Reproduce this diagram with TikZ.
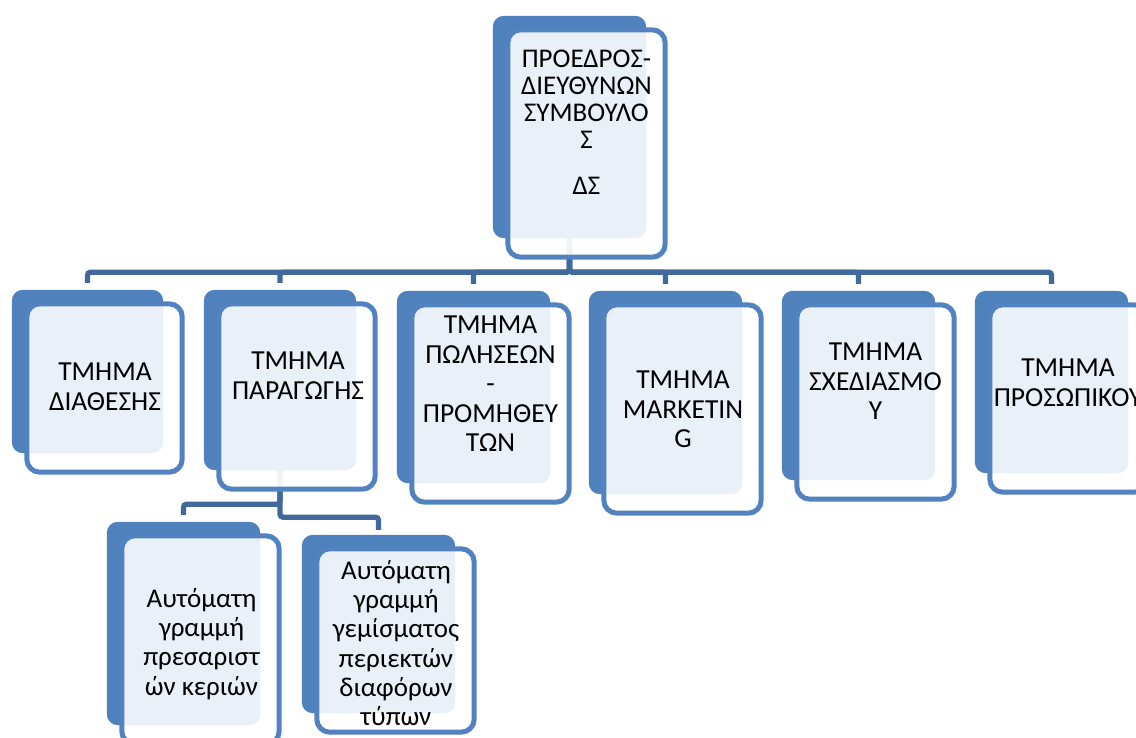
\documentclass[tikz,border=0pt]{standalone}
\usepackage{fontspec}
\setmainfont{Carlito}
\usetikzlibrary{fit,backgrounds}
\definecolor{backblue}{HTML}{4F81BD}
\definecolor{lineblue}{HTML}{5283C0}
\definecolor{connblue}{HTML}{41699B}
\definecolor{lightfill}{HTML}{EAF0F8}
\tikzset{
  frame/.style={inner sep=0pt},
  conn/.style={draw=connblue, line width=5.3pt, rounded corners=3pt},
  txt/.style={align=center, inner sep=0pt, anchor=north, text=black,
    font=\fontsize{27.5}{29.5}\selectfont},
  toptxt/.style={align=center, inner sep=0pt, anchor=north, text=black,
    font=\fontsize{27}{27}\selectfont},
}
\newcommand\unitbox[5]{%
  \node[frame, fit={(#2,#3)(#4,#5)}] (b#1) {};
  \node[frame, fit={(#2+15,#3+14)(#4+19,#5+19)}] (f#1) {};
  \fill[backblue, rounded corners=11pt] (b#1.south west) rectangle (b#1.north east);
  \fill[white, opacity=.93, rounded corners=13pt] (f#1.south west) rectangle (f#1.north east);
  \begin{scope}
    \clip[rounded corners=13pt] (f#1.south west) rectangle (f#1.north east);
    \fill[lightfill, rounded corners=11pt] (b#1.south west) rectangle (b#1.north east);
  \end{scope}
  \draw[lineblue, line width=5pt, rounded corners=13pt] (f#1.south west) rectangle (f#1.north east);
}
\begin{document}
\begin{tikzpicture}[x=1pt, y=-1pt]
\useasboundingbox (0,0) rectangle (1136,738);
\clip (0,0) rectangle (1136,738);

\unitbox{0}{493}{16}{646}{238}
\unitbox{1}{12}{290}{163}{453}
\unitbox{2}{204}{290}{356}{470}
\unitbox{3}{397}{291}{550}{483}
\unitbox{4}{589}{291}{742}{494}
\unitbox{5}{782}{291}{935}{480}
\unitbox{6}{975}{291}{1128}{473}
\unitbox{7}{107}{522}{260}{725}
\unitbox{8}{302}{535}{455}{713}

\node[toptxt] (t0) at (586.5,50) {ΠΡΟΕΔΡΟΣ-\\ΔΙΕΥΘΥΝΩΝ\\ΣΥΜΒΟΥΛΟ\\Σ\\[19pt]ΔΣ};
\node[txt] (t1) at (105,363) {ΤΜΗΜΑ\\ΔΙΑΘΕΣΗΣ};
\node[txt] (t2) at (298,352) {ΤΜΗΜΑ\\ΠΑΡΑΓΩΓΗΣ};
\node[txt] (t3) at (490.5,316) {ΤΜΗΜΑ\\ΠΩΛΗΣΕΩΝ\\-\\ΠΡΟΜΗΘΕΥ\\ΤΩΝ};
\node[txt] (t4) at (683,371) {ΤΜΗΜΑ\\MARKETIN\\G};
\node[txt] (t5) at (875.5,343) {ΤΜΗΜΑ\\ΣΧΕΔΙΑΣΜΟ\\Υ};
\node[txt] (t6) at (1068,359) {ΤΜΗΜΑ\\ΠΡΟΣΩΠΙΚΟΥ};
\node[txt, font=\fontsize{27}{29.3}\selectfont] (t7) at (201.5,588) {Αυτόματη\\γραμμή\\πρεσαριστ\\ών κεριών};
\node[txt, font=\fontsize{27}{29.3}\selectfont] (t8) at (396,560) {Αυτόματη\\γραμμή\\γεμίσματος\\περιεκτών\\διαφόρων\\τύπων};

\begin{pgfonlayer}{background}
  \fill[white] (0,0) rectangle (1136,738);
  \foreach \k in {1,...,6}{
    \draw[conn] (b0.south) -- ++(0,34) -| ([yshift=7pt]b\k.north);
  }
  \draw[conn] (b2.south) -- ++(0,34) -| ([yshift=7pt]b7.north);
  \draw[conn] (b2.south) -- ++(0,47) -| ([yshift=5pt]b8.north);
\end{pgfonlayer}
\end{tikzpicture}
\end{document}
